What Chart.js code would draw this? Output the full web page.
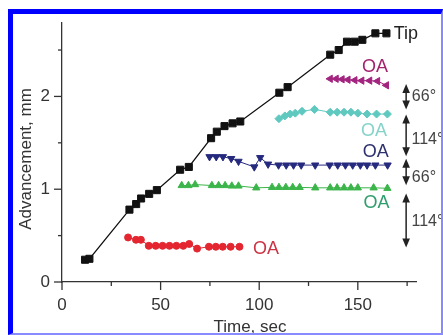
<!DOCTYPE html>
<html>
<head>
<meta charset="utf-8">
<script src="https://cdn.jsdelivr.net/npm/chart.js@4.4.0/dist/chart.umd.min.js"></script>
<style>
  html, body { margin: 0; padding: 0; background: #fff; }
  #wrap { position: relative; width: 443px; height: 335px; overflow: hidden; }
  #frame { position: absolute; left: 8px; top: 9px; right: 0; bottom: 0;
    border-top: 5px solid #0000ff; border-left: 5px solid #0000ff;
    border-right: 2px solid #8a8aff; border-bottom: 2px solid #8a8aff; pointer-events: none; }
</style>
</head>
<body>
<div id="wrap">
  <canvas id="resultChart" width="443" height="335"></canvas>
  <div id="frame"></div>
</div>
<script>
// values (time in sec, advancement in mm)
const tipTime = [11.7, 13.9, 34.2, 37.6, 40.1, 44.2, 48.1, 59.9, 64.3, 75.6, 78.5, 82.4, 86.5, 90.4, 110.2, 114.4, 136.0, 140.3, 144.5, 148.4, 152.3, 158.9, 164.5];
const tipAdv  = [0.24, 0.25, 0.78, 0.84, 0.90, 0.95, 0.99, 1.21, 1.24, 1.55, 1.62, 1.68, 1.71, 1.73, 2.04, 2.10, 2.45, 2.50, 2.59, 2.59, 2.61, 2.68, 2.68];

const redTime = [33.5, 37.5, 40.0, 44.0, 47.5, 51.0, 54.5, 58.0, 61.5, 64.5, 68.5, 74.5, 78.0, 81.5, 85.5, 90.0];
const redAdv  = [0.48, 0.455, 0.455, 0.39, 0.39, 0.39, 0.39, 0.39, 0.39, 0.41, 0.36, 0.38, 0.38, 0.38, 0.38, 0.38];

const greenTime = [60.7, 64.1, 67.5, 76.0, 79.4, 82.7, 86.1, 89.5, 98.5, 106.5, 110.0, 113.5, 117.0, 120.5, 128.4, 136.0, 139.5, 143.0, 146.5, 150.0, 158.0, 165.0];
const greenAdv  = [1.04, 1.04, 1.05, 1.04, 1.04, 1.04, 1.035, 1.035, 1.015, 1.02, 1.02, 1.02, 1.02, 1.02, 1.015, 1.015, 1.015, 1.015, 1.015, 1.015, 1.015, 1.01];

const navyTime = [74.8, 78.2, 81.6, 85.8, 89.5, 97.5, 100.5, 104.5, 109.8, 113.7, 117.4, 121.3, 128.4, 135.7, 139.8, 143.7, 147.4, 151.3, 154.7, 158.9, 165.1];
const navyAdv  = [1.35, 1.35, 1.35, 1.33, 1.30, 1.24, 1.34, 1.27, 1.26, 1.26, 1.26, 1.26, 1.26, 1.26, 1.26, 1.26, 1.26, 1.26, 1.26, 1.26, 1.26];

const cyanTime = [110.0, 113.0, 115.7, 118.3, 121.7, 128.0, 136.0, 139.5, 143.0, 146.5, 150.0, 154.7, 159.5, 165.0];
const cyanAdv  = [1.76, 1.79, 1.81, 1.82, 1.84, 1.86, 1.83, 1.83, 1.83, 1.83, 1.82, 1.81, 1.81, 1.81];

const magentaTime = [136.0, 139.0, 142.0, 145.0, 148.5, 152.0, 156.0, 160.0, 164.5];
const magentaAdv  = [2.19, 2.19, 2.185, 2.18, 2.175, 2.17, 2.17, 2.165, 2.12];

const xTicks = [0, 25, 50, 75, 100, 125, 150, 175];
const yTicks = [0, 0.5, 1, 1.5, 2, 2.5];

// text and angle arrows, placed in data units
const notes = [
  { text: 'Tip', x: 168.2, y: 2.67, color: '#222', size: 18 },
  { text: 'OA', x: 152.1, y: 2.32, color: '#a3236f', size: 18 },
  { text: 'OA', x: 151.6, y: 1.63, color: '#86d3cb', size: 18 },
  { text: 'OA', x: 152.5, y: 1.40, color: '#2d316f', size: 18 },
  { text: 'OA', x: 152.9, y: 0.85, color: '#2f9d6c', size: 18 },
  { text: 'OA', x: 96.8, y: 0.355, color: '#cc3344', size: 18 },
  { text: '66°', x: 177.4, y: 2.0, color: '#444', size: 16 },
  { text: '114°', x: 177.2, y: 1.54, color: '#444', size: 16 },
  { text: '66°', x: 177.4, y: 1.13, color: '#444', size: 16 },
  { text: '114°', x: 177.2, y: 0.655, color: '#444', size: 16 }
];
const arrows = [
  { x: 174.5, from: 2.133, to: 1.858 },
  { x: 174.5, from: 1.805, to: 1.356 },
  { x: 174.5, from: 1.327, to: 1.044 },
  { x: 174.5, from: 0.955, to: 0.372 }
];

const FONT = "'Liberation Sans', Arial, sans-serif";

function pts(xs, ys) {
  return xs.map((x, i) => ({ x: x, y: ys[i] }));
}

function series(label, xs, ys, color, style, radius, rotation, width) {
  return {
    label: label,
    data: pts(xs, ys),
    borderColor: color,
    backgroundColor: color,
    pointBackgroundColor: color,
    pointBorderColor: color,
    pointStyle: style,
    pointRadius: radius,
    pointRotation: rotation,
    pointBorderWidth: 1,
    borderWidth: width,
    showLine: true,
    tension: 0
  };
}

const extras = {
  id: 'extras',
  afterDraw(chart) {
    const ctx = chart.ctx;
    const xs = chart.scales.x, ys = chart.scales.y;
    ctx.save();
    // tick marks, long at labelled values
    ctx.strokeStyle = '#333';
    ctx.lineWidth = 1.3;
    xTicks.forEach(v => {
      const px = xs.getPixelForValue(v);
      const len = v % 50 === 0 ? 8 : 4;
      ctx.beginPath();
      ctx.moveTo(px, ys.bottom);
      ctx.lineTo(px, ys.bottom + len);
      ctx.stroke();
    });
    yTicks.forEach(v => {
      const py = ys.getPixelForValue(v);
      const len = v % 1 === 0 ? 8 : 4;
      ctx.beginPath();
      ctx.moveTo(xs.left, py);
      ctx.lineTo(xs.left - len, py);
      ctx.stroke();
    });

    // axis titles
    ctx.fillStyle = '#333';
    ctx.font = '17px ' + FONT;
    ctx.textAlign = 'center';
    ctx.textBaseline = 'alphabetic';
    ctx.fillText('Time, sec', 250, 332);
    ctx.save();
    ctx.translate(31, 159);
    ctx.rotate(-Math.PI / 2);
    ctx.fillText('Advancement, mm', 0, 0);
    ctx.restore();

    // double arrows
    ctx.strokeStyle = '#222';
    ctx.fillStyle = '#222';
    ctx.lineWidth = 1.5;
    arrows.forEach(a => {
      const px = xs.getPixelForValue(a.x);
      const top = ys.getPixelForValue(a.from);
      const bot = ys.getPixelForValue(a.to);
      ctx.beginPath();
      ctx.moveTo(px, top + 4);
      ctx.lineTo(px, bot - 4);
      ctx.stroke();
      ctx.beginPath();
      ctx.moveTo(px, top);
      ctx.lineTo(px - 3.8, top + 9);
      ctx.lineTo(px + 3.8, top + 9);
      ctx.closePath();
      ctx.fill();
      ctx.beginPath();
      ctx.moveTo(px, bot);
      ctx.lineTo(px - 3.8, bot - 9);
      ctx.lineTo(px + 3.8, bot - 9);
      ctx.closePath();
      ctx.fill();
    });

    // labels
    ctx.textAlign = 'left';
    ctx.textBaseline = 'middle';
    notes.forEach(n => {
      ctx.font = n.size + 'px ' + FONT;
      ctx.fillStyle = n.color;
      ctx.fillText(n.text, xs.getPixelForValue(n.x), ys.getPixelForValue(n.y));
    });
    ctx.restore();
  }
};

new Chart(document.getElementById('resultChart'), {
  type: 'scatter',
  data: {
    datasets: [
      series('Tip', tipTime, tipAdv, '#111', 'rect', 5, 0, 1.3),
      series('OA red', redTime, redAdv, '#e32630', 'circle', 3.5, 0, 1),
      series('OA green', greenTime, greenAdv, '#3bb54a', 'triangle', 4.2, 0, 1),
      series('OA navy', navyTime, navyAdv, '#262a7e', 'triangle', 4.2, 180, 1),
      series('OA cyan', cyanTime, cyanAdv, '#5fc9c0', 'rectRot', 4, 0, 1),
      series('OA magenta', magentaTime, magentaAdv, '#a3247f', 'triangle', 4.2, 270, 1)
    ]
  },
  options: {
    responsive: false,
    animation: false,
    layout: { padding: { top: 18, right: 27, left: 0, bottom: 0 } },
    plugins: { legend: { display: false }, tooltip: { enabled: false } },
    scales: {
      x: {
        type: 'linear',
        min: 0,
        max: 179.5,
        afterFit: s => { s.height = 53; },
        afterBuildTicks: s => { s.ticks = [0, 50, 100, 150].map(v => ({ value: v })); },
        grid: { drawOnChartArea: false, drawTicks: false },
        border: { display: true, color: '#333', width: 1.3 },
        ticks: { padding: 13, color: '#333', font: { family: FONT, size: 17 } }
      },
      y: {
        min: 0,
        max: 2.8,
        afterFit: s => { s.width = 62; },
        afterBuildTicks: s => { s.ticks = [0, 1, 2].map(v => ({ value: v })); },
        grid: { drawOnChartArea: false, drawTicks: false },
        border: { display: true, color: '#333', width: 1.3 },
        ticks: { padding: 12, color: '#333', font: { family: FONT, size: 17 } }
      }
    }
  },
  plugins: [extras]
});
</script>
</body>
</html>
